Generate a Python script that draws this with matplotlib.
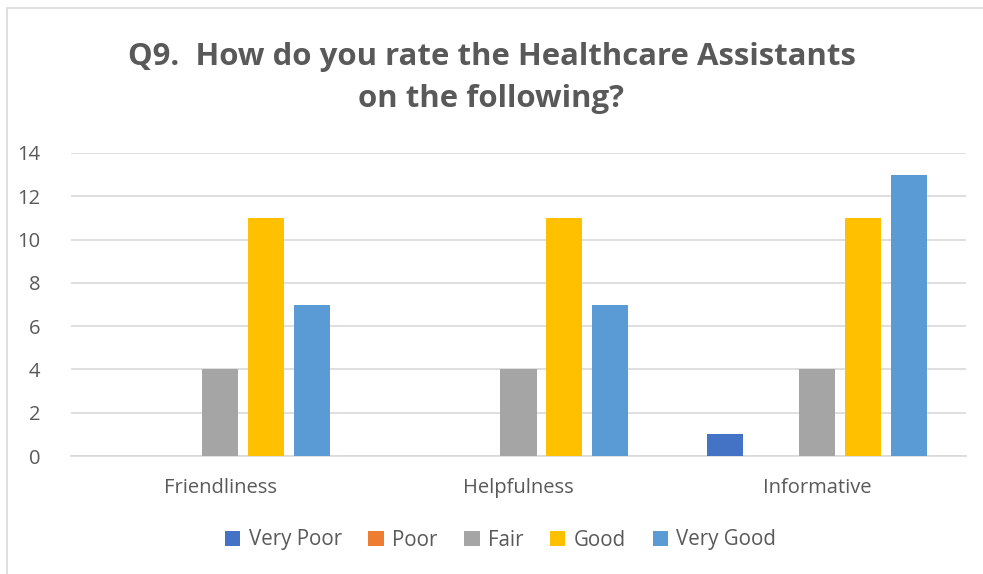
import numpy as np
import matplotlib
matplotlib.use("Agg")
import matplotlib.pyplot as plt
from matplotlib.patches import Rectangle

plt.rcParams['font.family'] = ['Open Sans', 'DejaVu Sans']

categories = ['Friendliness', 'Helpfulness', 'Informative']
series = ['Very Poor', 'Poor', 'Fair', 'Good', 'Very Good']
values = {
    'Very Poor': [0, 0, 1],
    'Poor': [0, 0, 0],
    'Fair': [4, 4, 4],
    'Good': [11, 11, 11],
    'Very Good': [7, 7, 13],
}
colors = ['#4472C4', '#ED7D31', '#A5A5A5', '#FFC000', '#5B9BD5']
title = 'Q9.  How do you rate the Healthcare Assistants\non the following?'

text_color = '#595959'
grid_color = '#D9D9D9'

fig = plt.figure(figsize=(9.83, 5.74), dpi=100)
# chart border (Excel-style outer frame)
fig.patches.append(Rectangle((7 / 983, -0.02), 1.1, 1 - 8 / 574 + 0.02,
                             transform=fig.transFigure, fill=False,
                             edgecolor=grid_color, linewidth=1.2))

ax = fig.add_axes([71 / 983, 1 - 456 / 574, (966 - 71) / 983, (456 - 153) / 574])

x = np.arange(len(categories))
width = 0.1207
step = 0.154
for i, name in enumerate(series):
    ax.bar(x + (i - 2) * step, values[name], width, color=colors[i], label=name, zorder=3)

ax.set_xlim(-0.5, 2.5)
ax.set_ylim(0, 14)
ax.set_yticks(range(0, 15, 2))
ax.set_xticks(x)
ax.set_xticklabels(categories)
ax.yaxis.grid(True, color=grid_color, linewidth=1.2, zorder=0)
for s in ['top', 'right', 'left']:
    ax.spines[s].set_visible(False)
ax.spines['bottom'].set_color(grid_color)
ax.spines['bottom'].set_linewidth(1.2)
ax.tick_params(axis='both', length=0, labelsize=14.5, labelcolor=text_color)
ax.tick_params(axis='x', pad=16)
ax.tick_params(axis='y', pad=22)

fig.text(0.5, 1 - 78 / 574, title, ha='center', va='center', fontsize=22.4,
         fontweight='bold', color=text_color, linespacing=1.5)

fig.legend(loc='center', bbox_to_anchor=(0.5 + 9 / 983, 1 - 540 / 574), ncol=5, frameon=False,
           fontsize=14.8, labelcolor=text_color, handlelength=0.75, handleheight=0.75,
           handletextpad=0.4, columnspacing=1.3)

fig.savefig('out.png', dpi=100)
